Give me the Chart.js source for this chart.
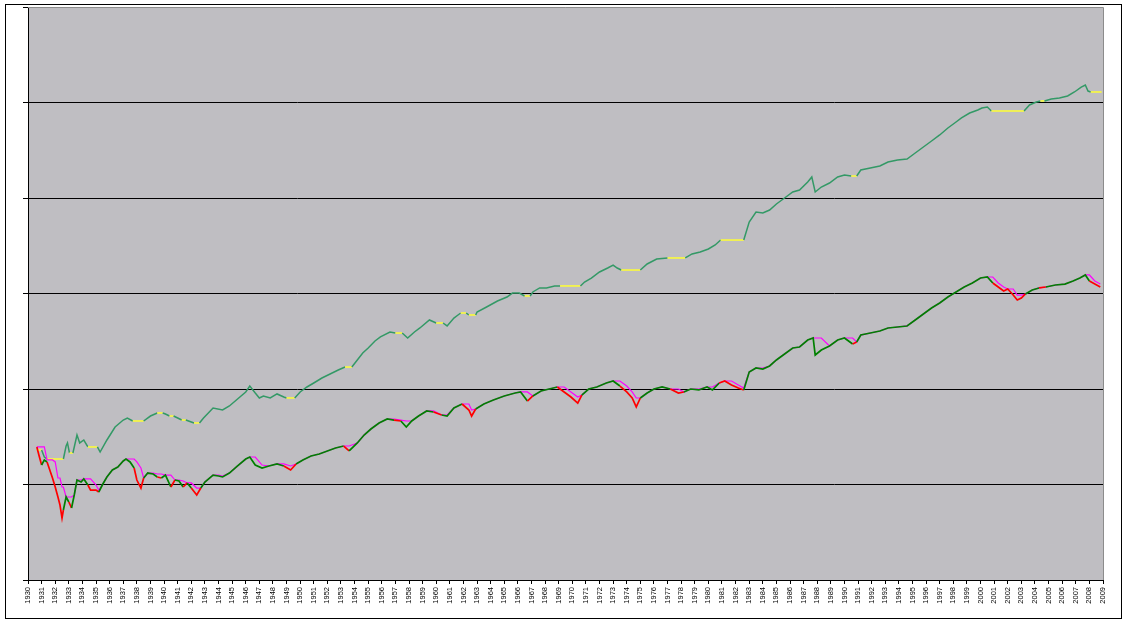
<!DOCTYPE html>
<html>
<head>
<meta charset="utf-8">
<title>Timing strategy vs market, 1930-2009</title>
<script src="https://cdn.jsdelivr.net/npm/chart.js@4.4.1/dist/chart.umd.min.js"></script>
<style>
  html, body { margin: 0; padding: 0; background: #fff; }
</style>
</head>
<body>
<canvas id="myChart" width="1125" height="624"></canvas>
<script>
// levels are log10 of the index
const timingYears = [
  1930.65, 1931.0, 1931.2, 1931.4, 1932.6, 1932.8, 1932.9, 1933.05, 1933.3, 1933.6,
  1933.8, 1934.1, 1934.4, 1935.1, 1935.3, 1935.8, 1936.4, 1937.0, 1937.3, 1937.7,
  1938.5, 1939.0, 1939.5, 1939.9, 1940.1, 1940.4, 1940.7, 1941.0, 1941.3, 1941.6,
  1942.0, 1942.2, 1942.6, 1942.9, 1943.6, 1944.3, 1944.8, 1945.4, 1946.0, 1946.3,
  1946.7, 1947.0, 1947.3, 1947.8, 1948.3, 1948.8, 1949.0, 1949.6, 1950.0, 1950.5,
  1951.0, 1951.6, 1952.2, 1952.8, 1953.3, 1953.8, 1954.2, 1954.6, 1955.0, 1955.5,
  1955.9, 1956.6, 1957.0, 1957.5, 1957.9, 1958.4, 1958.8, 1959.5, 1960.0, 1960.5,
  1960.8, 1961.3, 1961.6, 1961.8, 1962.2, 1962.4, 1962.9, 1963.0, 1963.7, 1964.5,
  1965.2, 1965.6, 1966.1, 1966.5, 1966.9, 1967.1, 1967.6, 1968.1, 1968.7, 1969.1,
  1970.6, 1970.9, 1971.4, 1972.0, 1972.6, 1973.0, 1973.3, 1973.6, 1975.0, 1975.5,
  1976.2, 1977.0, 1978.3, 1978.8, 1979.4, 1980.0, 1980.5, 1980.9, 1982.6, 1983.0,
  1983.5, 1984.0, 1984.5, 1985.0, 1985.6, 1986.2, 1986.7, 1987.3, 1987.6, 1987.85,
  1988.3, 1988.9, 1989.5, 1990.0, 1990.5, 1990.9, 1991.2, 1991.9, 1992.6, 1993.2,
  1993.9, 1994.6, 1995.2, 1995.8, 1996.4, 1997.0, 1997.6, 1998.2, 1998.6, 1999.2,
  1999.8, 2000.1, 2000.5, 2000.8, 2003.2, 2003.6, 2004.1, 2004.4, 2004.7, 2005.2,
  2005.8, 2006.4, 2006.9, 2007.4, 2007.7, 2007.9, 2008.1, 2008.9
];
const timingLevels = [
  1.361, 1.361, 1.288, 1.267, 1.267, 1.403, 1.435, 1.330, 1.330, 1.518,
  1.435, 1.466, 1.393, 1.393, 1.340, 1.466, 1.602, 1.675, 1.696, 1.665,
  1.665, 1.717, 1.749, 1.749, 1.738, 1.717, 1.717, 1.696, 1.675, 1.675,
  1.654, 1.644, 1.644, 1.696, 1.801, 1.780, 1.822, 1.895, 1.969, 2.031,
  1.958, 1.906, 1.927, 1.906, 1.948, 1.916, 1.906, 1.906, 1.969, 2.021,
  2.063, 2.115, 2.157, 2.199, 2.230, 2.230, 2.304, 2.377, 2.429, 2.503,
  2.545, 2.597, 2.586, 2.586, 2.534, 2.597, 2.639, 2.723, 2.691, 2.691,
  2.660, 2.743, 2.775, 2.796, 2.796, 2.775, 2.775, 2.806, 2.859, 2.921,
  2.963, 3.005, 3.005, 2.974, 2.974, 3.016, 3.058, 3.058, 3.079, 3.079,
  3.079, 3.120, 3.162, 3.225, 3.267, 3.298, 3.267, 3.246, 3.246, 3.309,
  3.361, 3.372, 3.372, 3.414, 3.435, 3.466, 3.508, 3.560, 3.560, 3.749,
  3.853, 3.843, 3.874, 3.937, 4.000, 4.063, 4.084, 4.168, 4.220, 4.063,
  4.115, 4.157, 4.220, 4.241, 4.230, 4.230, 4.293, 4.314, 4.335, 4.377,
  4.398, 4.408, 4.471, 4.534, 4.597, 4.660, 4.733, 4.796, 4.838, 4.890,
  4.921, 4.942, 4.953, 4.911, 4.911, 4.974, 5.005, 5.016, 5.016, 5.037,
  5.047, 5.068, 5.110, 5.162, 5.183, 5.120, 5.110, 5.110
];

const marketYears = [
  1930.65, 1930.8, 1931.0, 1931.2, 1931.4, 1931.6, 1931.8, 1932.0, 1932.2, 1932.35,
  1932.5, 1932.6, 1932.8, 1933.0, 1933.2, 1933.4, 1933.6, 1933.9, 1934.1, 1934.4,
  1934.6, 1935.0, 1935.2, 1935.5, 1935.8, 1936.2, 1936.6, 1937.0, 1937.2, 1937.5,
  1937.8, 1938.0, 1938.3, 1938.5, 1938.8, 1939.2, 1939.5, 1939.8, 1940.1, 1940.5,
  1940.8, 1941.1, 1941.4, 1941.7, 1942.0, 1942.4, 1942.7, 1943.0, 1943.6, 1944.0,
  1944.3, 1944.8, 1945.4, 1946.0, 1946.3, 1946.7, 1947.2, 1947.7, 1948.3, 1948.8,
  1949.3, 1949.7, 1950.2, 1950.8, 1951.4, 1952.0, 1952.6, 1953.2, 1953.6, 1954.2,
  1954.7, 1955.2, 1955.8, 1956.4, 1956.9, 1957.4, 1957.8, 1958.2, 1958.7, 1959.3,
  1959.8, 1960.4, 1960.8, 1961.3, 1961.9, 1962.4, 1962.6, 1962.9, 1963.5, 1964.2,
  1965.0, 1965.8, 1966.2, 1966.7, 1967.1, 1967.7, 1968.3, 1968.9, 1969.4, 1969.9,
  1970.4, 1970.7, 1971.2, 1971.8, 1972.5, 1973.0, 1973.5, 1974.0, 1974.4, 1974.7,
  1975.0, 1975.5, 1976.0, 1976.6, 1977.2, 1977.8, 1978.2, 1978.7, 1979.3, 1979.9,
  1980.3, 1980.8, 1981.2, 1981.7, 1982.2, 1982.6, 1983.0, 1983.5, 1984.0, 1984.5,
  1985.0, 1985.6, 1986.2, 1986.7, 1987.3, 1987.7, 1987.85, 1988.3, 1988.9, 1989.5,
  1990.0, 1990.6, 1990.9, 1991.2, 1991.9, 1992.6, 1993.2, 1993.9, 1994.6, 1995.2,
  1995.8, 1996.4, 1997.0, 1997.6, 1998.2, 1998.8, 1999.4, 2000.0, 2000.5, 2000.9,
  2001.3, 2001.7, 2002.0, 2002.4, 2002.7, 2003.0, 2003.3, 2003.8, 2004.3, 2004.8,
  2005.5, 2006.2, 2006.8, 2007.3, 2007.7, 2008.0, 2008.4, 2008.8
];
const marketLevels = [
  1.393, 1.309, 1.204, 1.257, 1.236, 1.152, 1.068, 0.974, 0.869, 0.785,
  0.649, 0.733, 0.869, 0.817, 0.754, 0.890, 1.047, 1.026, 1.058, 0.995,
  0.942, 0.942, 0.921, 1.005, 1.079, 1.152, 1.183, 1.246, 1.267, 1.236,
  1.173, 1.047, 0.963, 1.068, 1.120, 1.110, 1.079, 1.068, 1.099, 0.974,
  1.047, 1.037, 0.974, 1.016, 0.963, 0.890, 0.963, 1.026, 1.099, 1.089,
  1.079, 1.120, 1.194, 1.267, 1.288, 1.204, 1.173, 1.194, 1.215, 1.194,
  1.152, 1.215, 1.257, 1.298, 1.319, 1.351, 1.382, 1.403, 1.351, 1.435,
  1.518, 1.581, 1.644, 1.686, 1.675, 1.665, 1.602, 1.665, 1.717, 1.770,
  1.759, 1.728, 1.717, 1.801, 1.843, 1.780, 1.717, 1.791, 1.843, 1.885,
  1.927, 1.958, 1.969, 1.874, 1.927, 1.979, 2.000, 2.021, 1.969, 1.916,
  1.853, 1.937, 2.000, 2.021, 2.063, 2.084, 2.031, 1.969, 1.906, 1.812,
  1.906, 1.958, 2.000, 2.021, 2.000, 1.958, 1.969, 2.000, 1.990, 2.021,
  1.990, 2.063, 2.084, 2.042, 2.010, 1.990, 2.178, 2.220, 2.209, 2.241,
  2.304, 2.366, 2.429, 2.440, 2.513, 2.534, 2.356, 2.408, 2.450, 2.513,
  2.534, 2.471, 2.492, 2.565, 2.586, 2.607, 2.639, 2.649, 2.660, 2.723,
  2.785, 2.848, 2.901, 2.963, 3.016, 3.068, 3.110, 3.162, 3.173, 3.110,
  3.068, 3.026, 3.047, 2.984, 2.932, 2.953, 2.995, 3.037, 3.058, 3.068,
  3.089, 3.099, 3.131, 3.162, 3.194, 3.131, 3.099, 3.068
];

// stretches where the strategy is out of the market
const cashPeriods = [
  [1930.65, 1931.0], [1931.4, 1932.6], [1933.05, 1933.3], [1934.4, 1935.1],
  [1937.7, 1938.5], [1939.5, 1939.9], [1940.4, 1940.7], [1941.3, 1941.6],
  [1942.2, 1942.6], [1949.0, 1949.6], [1953.3, 1953.8], [1957.0, 1957.5],
  [1960.0, 1960.5], [1961.8, 1962.2], [1962.4, 1962.9], [1966.5, 1966.9],
  [1969.1, 1970.6], [1973.6, 1975.0], [1977.0, 1978.3], [1980.9, 1982.6],
  [1990.5, 1990.9], [2000.8, 2003.2], [2004.4, 2004.7], [2008.1, 2008.9]
];

const firstYear = 1930;
const lastYear = 2009;
const peakWindow = 0.6;

const plotGray = "rgb(191,190,194)";
const teal = "#339966";
const cashYellow = "#ffff33";
const green = "#008000";
const red = "#ff0000";
const magenta = "#ff00ff";

const inCash = (a, b) => {
  const m = (a + b) / 2;
  return cashPeriods.some((p) => m >= p[0] && m <= p[1]);
};

const toPoints = (xs, ys) => xs.map((x, i) => ({ x: x, y: ys[i] }));

// trailing high of the market line
const trailingPeak = marketYears.map((yr, i) => {
  let m = -Infinity;
  for (let j = 0; j <= i; j++) {
    if (marketYears[j] >= yr - peakWindow) m = Math.max(m, marketLevels[j]);
  }
  return m;
});

const frame = {
  id: "frame",
  beforeDraw(chart) {
    const { ctx, chartArea: a } = chart;
    ctx.save();
    ctx.fillStyle = plotGray;
    ctx.fillRect(a.left, a.top, a.right - a.left, a.bottom - a.top);
    ctx.restore();
  },
  afterDraw(chart) {
    const { ctx, chartArea: a } = chart;
    ctx.save();
    ctx.strokeStyle = "#8c8c8c";
    ctx.lineWidth = 1;
    ctx.beginPath();
    ctx.moveTo(a.left, Math.round(a.top) + 0.5);
    ctx.lineTo(Math.round(a.right) + 0.5, Math.round(a.top) + 0.5);
    ctx.lineTo(Math.round(a.right) + 0.5, a.bottom);
    ctx.stroke();
    ctx.strokeStyle = "#000";
    ctx.strokeRect(5.5, 4.5, 1116, 614);
    ctx.restore();
  },
};

let curChart = null;

const init = () => {
  const ctx = document.getElementById("myChart").getContext("2d");

  curChart = new Chart(ctx, {
    type: "line",
    data: {
      datasets: [
        {
          label: "Market",
          data: toPoints(marketYears, marketLevels),
          borderWidth: 1.7,
          borderColor: green,
          segment: {
            borderColor: (c) => (inCash(c.p0.parsed.x, c.p1.parsed.x) ? red : green),
          },
          order: 0,
        },
        {
          label: "Trailing high",
          data: toPoints(marketYears, trailingPeak),
          borderWidth: 1.2,
          borderColor: magenta,
          order: 1,
        },
        {
          label: "Timing",
          data: toPoints(timingYears, timingLevels),
          borderWidth: 1.5,
          borderColor: teal,
          segment: {
            borderColor: (c) => (inCash(c.p0.parsed.x, c.p1.parsed.x) ? cashYellow : teal),
          },
          order: 2,
        },
      ],
    },
    options: {
      responsive: false,
      animation: false,
      layout: { padding: { left: 5, top: 7, right: 22, bottom: 0 } },
      plugins: { legend: { display: false }, tooltip: { enabled: false } },
      elements: { point: { radius: 0 }, line: { tension: 0 } },
      scales: {
        x: {
          type: "linear",
          min: firstYear,
          max: lastYear,
          afterFit: (s) => { s.height = 44; },
          grid: { drawOnChartArea: false, drawTicks: true, tickLength: 4, color: "#000" },
          border: { color: "#000" },
          ticks: {
            stepSize: 1,
            autoSkip: false,
            minRotation: 90,
            maxRotation: 90,
            padding: 3,
            color: "#000",
            font: { family: "'Liberation Sans', Arial, sans-serif", size: 7.5 },
            callback: (v) => String(v),
          },
        },
        y: {
          min: 0,
          max: 6,
          afterFit: (s) => { s.width = 23; },
          grid: {
            color: (c) => (c.tick && c.tick.value === 6 ? "rgba(0,0,0,0)" : "#000"),
            tickColor: "#000",
            tickLength: 5,
          },
          border: { color: "#000" },
          ticks: {
            stepSize: 1,
            color: "#fff",
            padding: 1,
            font: { family: "'Liberation Sans', Arial, sans-serif", size: 7 },
          },
        },
      },
    },
    plugins: [frame],
  });
};

window.addEventListener("load", init);
</script>
</body>
</html>
